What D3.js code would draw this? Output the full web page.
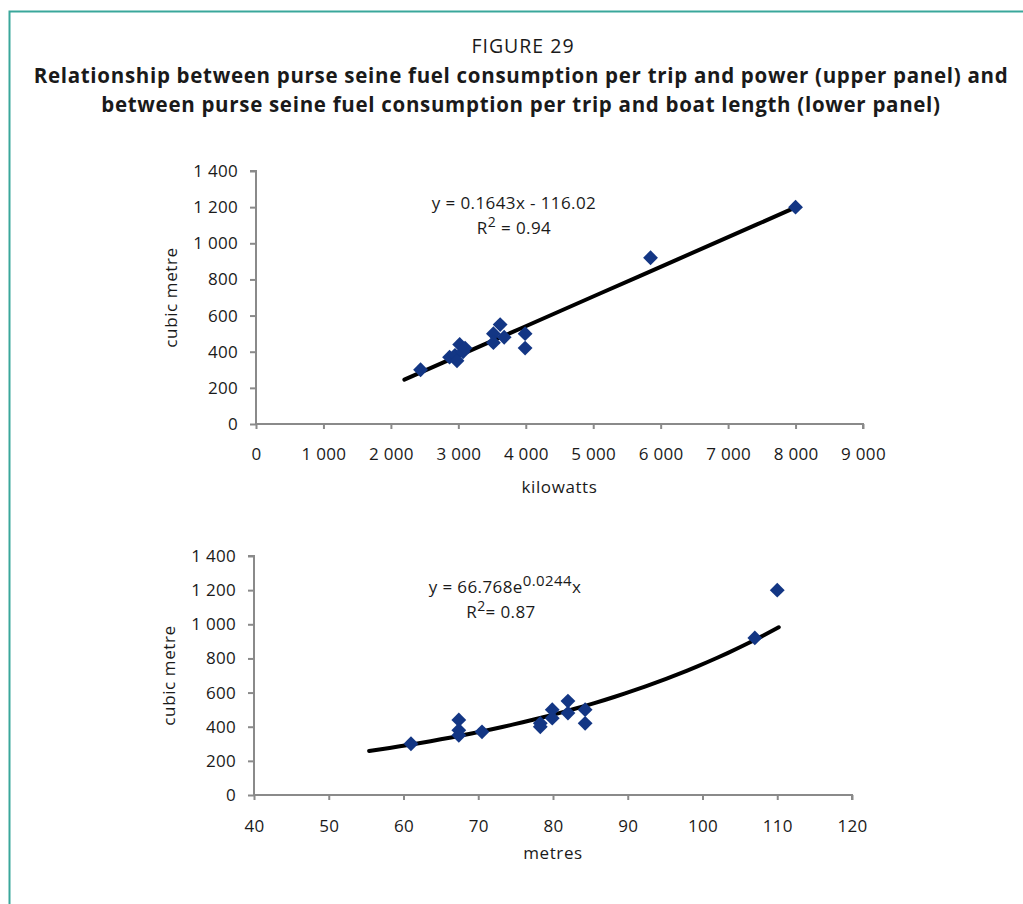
<!DOCTYPE html>
<html>
<head>
<meta charset="utf-8">
<script src="https://cdn.jsdelivr.net/npm/d3@7"></script>
<style>
  body { margin: 0; background: #fff; }
  svg text { font-family: "Open Sans", "Noto Sans", sans-serif; fill: #1a1a1a; }
</style>
</head>
<body>
<div id="chart"></div>
<script>
// upper panel: power (kW) vs fuel per trip (cubic metre)
const powerKw = [2440, 2870, 2950, 3020, 2980, 3070, 3100, 3520, 3520, 3620, 3680, 3990, 3990, 5850, 8000];
const fuelUpper = [300, 370, 380, 440, 350, 400, 420, 500, 450, 550, 480, 500, 420, 920, 1200];

// lower panel: boat length (m) vs fuel per trip
const lengthM = [61, 67.4, 67.4, 67.4, 70.5, 78.3, 78.3, 79.9, 79.9, 82, 82, 84.3, 84.3, 107, 110];
const fuelLower = [300, 440, 380, 350, 370, 420, 400, 500, 450, 550, 480, 500, 420, 920, 1200];

const yTicks = [0, 200, 400, 600, 800, 1000, 1200, 1400];
const xTicksUpper = [0, 1000, 2000, 3000, 4000, 5000, 6000, 7000, 8000, 9000];
const xTicksLower = [40, 50, 60, 70, 80, 90, 100, 110, 120];

// trend lines (from the figure)
const linFit = {slope: 0.1643, icpt: -116.02, from: 2200, to: 8000};
const expFit = {a: 66.768, b: 0.0244, from: 55.4, to: 110.2};

const W = 1023, H = 904;
const svg = d3.select('#chart').append('svg')
    .attr('width', W)
    .attr('height', H);

// teal frame (left + top)
svg.append('path')
    .attr('d', `M9.5,${H} V11.5 H${W}`)
    .attr('fill', 'none')
    .attr('stroke', '#3aa79b')
    .attr('stroke-width', 2);

// titles
svg.append('text')
    .attr('x', 523).attr('y', 53)
    .attr('text-anchor', 'middle')
    .attr('font-size', 19.5)
    .attr('letter-spacing', 1)
    .text('FIGURE 29');

const titleLines = [
    'Relationship between purse seine fuel consumption per trip and power (upper panel) and',
    'between purse seine fuel consumption per trip and boat length (lower panel)'
];
svg.selectAll('.title')
    .data(titleLines)
    .join('text')
    .attr('class', 'title')
    .attr('x', 521)
    .attr('y', (d, i) => 83 + i * 29)
    .attr('text-anchor', 'middle')
    .attr('font-size', 20.5)
    .attr('letter-spacing', 0.7)
    .attr('font-weight', 'bold')
    .text(d => d);

const fmt = v => d3.format(',')(v).replace(/,/g, ' ');

function panel(opt) {
    const x = d3.scaleLinear().domain(opt.xDomain).range([opt.left, opt.right]);
    const y = d3.scaleLinear().domain([0, 1400]).range([opt.bottom, opt.top]);
    const g = svg.append('g');

    const yAxis = g.append('g')
        .attr('transform', `translate(${opt.left},0)`)
        .call(d3.axisLeft(y).tickValues(yTicks).tickSize(6).tickPadding(12).tickFormat(fmt));
    const xAxis = g.append('g')
        .attr('transform', `translate(0,${opt.bottom})`)
        .call(d3.axisBottom(x).tickValues(opt.xTicks).tickSize(5).tickPadding(opt.xPad).tickFormat(fmt));

    [yAxis, xAxis].forEach(a => {
        a.selectAll('path, line').attr('stroke', '#8a8a8a').attr('stroke-width', 2);
        a.selectAll('text')
            .style('font-family', '"Open Sans", "Noto Sans", sans-serif')
            .attr('font-size', 17)
            .attr('letter-spacing', 0.3)
            .attr('fill', '#1a1a1a');
    });
    yAxis.select('.domain').attr('d', `M-6,${y(1400)}H0V${opt.bottom}`);
    xAxis.select('.domain').attr('d', `M${opt.left},0H${opt.right}V5`);

    // axis titles
    g.append('text')
        .attr('transform', `translate(${opt.left - 79},${(opt.top + opt.bottom) / 2}) rotate(-90)`)
        .attr('text-anchor', 'middle')
        .attr('font-size', 17)
        .attr('letter-spacing', 0.6)
        .text('cubic metre');
    g.append('text')
        .attr('x', (opt.left + opt.right) / 2)
        .attr('y', opt.xTitleY)
        .attr('text-anchor', 'middle')
        .attr('font-size', 17)
        .attr('letter-spacing', 0.6)
        .text(opt.xTitle);

    // trend
    g.append('path')
        .datum(opt.trend)
        .attr('d', d3.line().x(d => x(d[0])).y(d => y(d[1])))
        .attr('fill', 'none')
        .attr('stroke', '#000')
        .attr('stroke-width', 4)
        .attr('stroke-linecap', 'round');

    // points as rotated squares
    g.selectAll('.pt')
        .data(opt.xs.map((v, i) => [v, opt.ys[i]]))
        .join('path')
        .attr('class', 'pt')
        .attr('d', d3.symbol(d3.symbolSquare, 110))
        .attr('transform', d => `translate(${x(d[0])},${y(d[1])}) rotate(45)`)
        .attr('fill', '#133684');

    return {x, y, g};
}

const up = panel({
    xDomain: [0, 9000], xTicks: xTicksUpper,
    left: 256, right: 863, top: 171, bottom: 424, xPad: 19,
    xTitle: 'kilowatts', xTitleY: 493,
    xs: powerKw, ys: fuelUpper,
    trend: d3.range(0, 11).map(i => {
        const v = linFit.from + (linFit.to - linFit.from) * i / 10;
        return [v, linFit.slope * v + linFit.icpt];
    })
});

const low = panel({
    xDomain: [40, 120], xTicks: xTicksLower,
    left: 254, right: 852, top: 556, bottom: 795, xPad: 20,
    xTitle: 'metres', xTitleY: 859,
    xs: lengthM, ys: fuelLower,
    trend: d3.range(0, 41).map(i => {
        const v = expFit.from + (expFit.to - expFit.from) * i / 40;
        return [v, expFit.a * Math.exp(expFit.b * v)];
    })
});

// equations
const eqFont = 17, eqLs = 0.4;
const eq1 = up.g.append('text').attr('x', 514).attr('y', 209).attr('text-anchor', 'middle')
    .attr('font-size', eqFont).attr('letter-spacing', eqLs);
eq1.text('y = 0.1643x - 116.02');
const r1 = up.g.append('text').attr('x', 514).attr('y', 234).attr('text-anchor', 'middle')
    .attr('font-size', eqFont).attr('letter-spacing', eqLs);
r1.append('tspan').text('R');
r1.append('tspan').attr('dy', -7).attr('font-size', 14).text('2');
r1.append('tspan').attr('dy', 7).text(' = 0.94');

const eq2 = low.g.append('text').attr('x', 505).attr('y', 593).attr('text-anchor', 'middle')
    .attr('font-size', eqFont).attr('letter-spacing', eqLs);
eq2.append('tspan').text('y = 66.768e');
eq2.append('tspan').attr('dy', -7).attr('font-size', 15).text('0.0244');
eq2.append('tspan').attr('dy', 7).text('x');
const r2 = low.g.append('text').attr('x', 501).attr('y', 618).attr('text-anchor', 'middle')
    .attr('font-size', eqFont).attr('letter-spacing', eqLs);
r2.append('tspan').text('R');
r2.append('tspan').attr('dy', -7).attr('font-size', 14).text('2');
r2.append('tspan').attr('dy', 7).text('= 0.87');
</script>
</body>
</html>
